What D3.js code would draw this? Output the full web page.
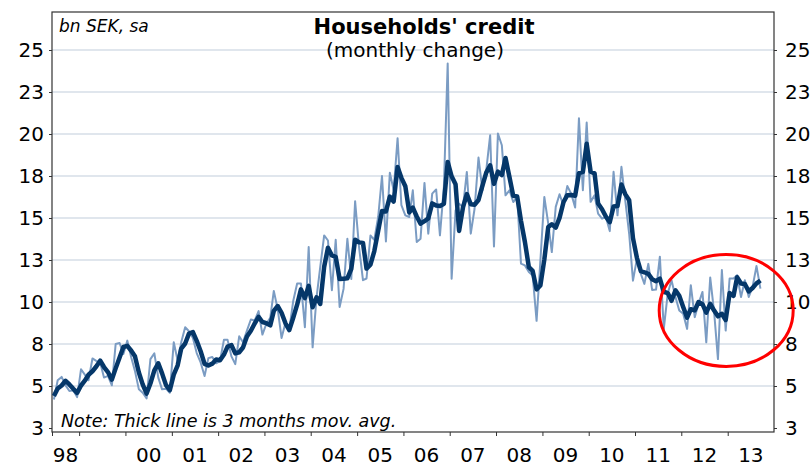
<!DOCTYPE html>
<html><head><meta charset="utf-8">
<script src="https://cdn.jsdelivr.net/npm/d3@7"></script>
<style>body{margin:0;background:#fff}svg{display:block}text{font-family:"DejaVu Sans",Verdana,sans-serif;fill:#000}</style>
</head><body><svg id="c" width="810" height="467"></svg>
<script>
// Monthly change in households' credit, bn SEK (sa), Jun 1998 .. Sep 2013
const startMonth = new Date(1998, 5, 1);
const monthly = [4.2,5.34,5.54,5.04,4.7,4.74,4.34,6.0,5.66,5.34,6.64,6.5,6.4,5.5,5.6,5.04,7.5,7.56,6.9,7.7,6.7,5.9,4.8,4.6,4.26,6.6,6.94,5.5,4.8,4.84,4.6,7.6,6.5,7.6,8.5,8.26,7.86,6.96,6.4,5.6,6.66,6.73,6.35,6.5,7.76,7.76,6.76,6.3,7.96,7.6,8.3,8.96,8.9,9.46,8.06,8.7,9.06,10.66,9.56,7.86,8.76,8.36,10.06,11.1,11.1,8.5,13.27,7.3,10.28,12.07,13.96,13.66,10.7,13.7,9.7,10.78,13.76,11.37,16.0,13.27,11.3,11.4,13.96,13.7,15.06,17.5,13.6,17.7,16.65,19.75,15.76,15.16,15.06,16.65,13.57,13.77,17.09,14.07,16.45,16.7,13.97,16.85,24.2,11.38,15.45,15.85,15.66,17.74,14.07,15.55,18.6,16.65,17.84,19.93,13.31,20.03,19.33,16.35,16.65,15.95,16.25,12.28,12.18,11.78,11.58,8.88,12.47,16.25,14.66,12.97,15.66,16.41,15.76,16.9,16.45,15.62,20.94,16.65,20.68,15.96,16.35,15.26,14.96,15.06,14.22,17.75,15.16,18.05,16.06,14.06,11.27,12.57,11.67,11.08,12.27,10.72,10.74,12.7,8.4,10.5,11.3,10.3,9.5,9.3,8.4,11.0,9.1,9.9,10.6,7.6,11.46,9.4,6.6,11.9,8.3,11.4,11.4,11.6,10.3,11.3,10.3,10.9,12.14,10.8];
// 3 months moving average (thick line)
const movAvg = [4.4,4.85,5.03,5.31,5.09,4.83,4.59,5.03,5.33,5.67,5.88,6.16,6.51,6.13,5.83,5.38,6.05,6.70,7.32,7.39,7.10,6.77,5.80,5.10,4.55,5.15,5.93,6.35,5.75,5.05,4.75,5.68,6.23,7.23,7.53,8.12,8.21,7.69,7.07,6.32,6.22,6.33,6.58,6.53,6.87,7.34,7.43,6.94,7.01,7.29,7.95,8.29,8.72,9.11,8.81,8.74,8.61,9.47,9.76,9.36,8.73,8.33,9.06,9.84,10.75,10.23,10.96,9.69,10.28,9.88,12.10,13.23,12.77,12.69,11.37,11.39,11.41,11.97,13.71,13.55,13.52,11.99,12.22,13.02,14.24,15.42,15.39,16.27,15.98,18.03,17.39,16.89,15.33,15.62,15.09,14.66,14.81,14.98,15.87,15.74,15.71,15.84,18.34,17.48,17.01,14.23,15.65,16.42,15.82,15.79,16.07,16.93,17.70,18.14,17.03,17.76,17.56,18.57,17.44,16.32,16.28,14.83,13.57,12.08,11.85,10.75,10.98,12.53,14.46,14.63,14.43,15.01,15.94,16.36,16.37,16.32,17.67,17.74,19.42,17.76,17.66,15.86,15.52,15.09,14.75,15.68,15.71,16.99,16.42,16.06,13.80,12.63,11.84,11.77,11.67,11.36,11.24,11.39,10.61,10.53,10.07,10.70,10.37,9.70,9.07,9.57,9.50,10.00,9.87,9.37,9.89,9.49,9.15,9.30,8.93,10.53,10.37,11.47,11.10,11.07,10.63,10.83,11.11,11.28];
const yTicks = [2.5,5,7.5,10,12.5,15,17.5,20,22.5,25];
const yTickLabels = ["3","5","8","10","13","15","18","20","23","25"];
const xLabelYears = [1998,2000,2001,2002,2003,2004,2005,2006,2007,2008,2009,2010,2011,2012,2013];
const xLabels = ["98","00","01","02","03","04","05","06","07","08","09","10","11","12","13"];

const svg = d3.select("#c");
const L = 52, R = 774, T = 12, B = 432;
const x = d3.scaleTime().domain([startMonth, new Date(2014,0,1)]).range([L, R]);
const y = d3.scaleLinear().domain([2.5, 25]).range([428, 50]);
const dates = monthly.map((v,i) => d3.timeDay.offset(d3.timeMonth.offset(startMonth, i), 15));

// gridlines
svg.append("g").selectAll("line").data(yTicks.filter(t => t > 2.5)).join("line")
  .attr("x1", L).attr("x2", R).attr("y1", d => y(d)).attr("y2", d => y(d))
  .attr("stroke", "#d6dee7").attr("stroke-width", 1.6);

// axes
const leftAxis = d3.axisLeft(y).tickValues(yTicks).tickSize(3).tickFormat((d,i) => yTickLabels[i]);
const rightAxis = d3.axisRight(y).tickValues(yTicks).tickSize(3).tickFormat((d,i) => yTickLabels[i]);
const gl = svg.append("g").attr("transform", `translate(${L},0)`).call(leftAxis);
const gr = svg.append("g").attr("transform", `translate(${R},0)`).call(rightAxis);
[gl, gr].forEach(g => {
  g.select(".domain").remove();
  g.selectAll("line").attr("stroke", "#333");
  g.selectAll("text").attr("font-size", 20).attr("font-family", '"DejaVu Sans",Verdana,sans-serif').attr("fill", "#000");
});
gl.selectAll("text").attr("x", -8);
gr.selectAll("text").attr("x", 11);

const yearTicks = [startMonth].concat(d3.timeYear.range(new Date(1999,0,1), new Date(2014,0,1)));
const bottomAxis = d3.axisBottom(x).tickValues(yearTicks).tickSize(4).tickFormat("");
const gb = svg.append("g").attr("transform", `translate(0,${B})`).call(bottomAxis);
gb.select(".domain").remove();
gb.selectAll("line").attr("stroke", "#333");

svg.append("g").selectAll("text").data(xLabelYears).join("text")
  .attr("x", (d) => {
    const a = Math.max(x(new Date(d,0,1)), L), b = Math.min(x(new Date(d+1,0,1)), R);
    return (a + b) / 2;
  })
  .attr("y", 462).attr("text-anchor", "middle").attr("font-size", 20)
  .text((d,i) => xLabels[i]);

// frame
svg.append("rect").attr("x", L).attr("y", T).attr("width", R - L).attr("height", B - T)
  .attr("fill", "none").attr("stroke", "#333").attr("stroke-width", 1.2);

// lines
const line = d3.line().x((d,i) => x(dates[i])).y(d => y(d));
svg.append("path").datum(monthly).attr("d", line).attr("fill", "none")
  .attr("stroke", "#7b9cc3").attr("stroke-width", 2).attr("stroke-linejoin", "round");
svg.append("path").datum(movAvg).attr("d", line).attr("fill", "none")
  .attr("stroke", "#053769").attr("stroke-width", 4.5).attr("stroke-linejoin", "round");

// texts
svg.append("text").attr("x", 424).attr("y", 34).attr("text-anchor", "middle")
  .attr("font-size", 21).attr("font-weight", "bold").text("Households' credit");
svg.append("text").attr("x", 415).attr("y", 57).attr("text-anchor", "middle")
  .attr("font-size", 20).text("(monthly change)");
svg.append("text").attr("x", 59).attr("y", 32).attr("font-size", 17).attr("font-style", "italic")
  .text("bn SEK, sa");
svg.append("text").attr("x", 61).attr("y", 427).attr("font-size", 17.5).attr("font-style", "italic")
  .text("Note: Thick line is 3 months mov. avg.");

// highlight ellipse
svg.append("ellipse").attr("cx", x(new Date(2012,11,20))).attr("cy", y(9.5))
  .attr("rx", 67).attr("ry", 56).attr("fill", "none").attr("stroke", "#ff0000").attr("stroke-width", 3);
</script></body></html>
